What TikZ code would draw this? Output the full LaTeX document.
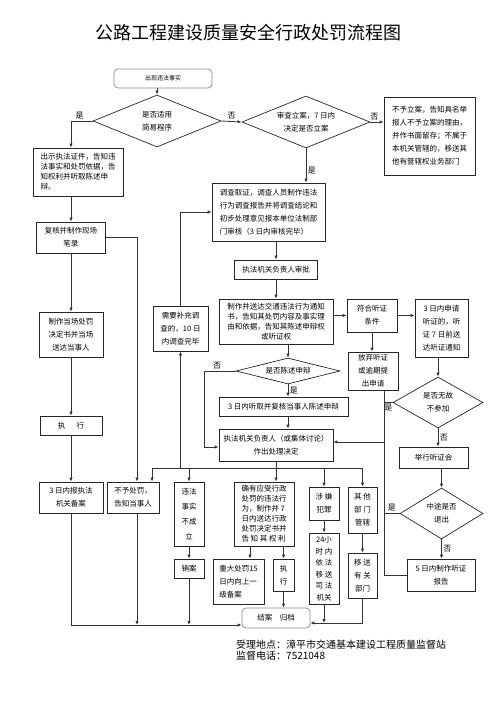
\documentclass[tikz,border=0pt]{standalone}
\usepackage{fontspec}
\setmainfont{Noto Sans CJK SC}
\usetikzlibrary{arrows.meta, shapes.geometric}

\begin{document}
\begin{tikzpicture}[x=1pt, y=-1pt,
  wh/.style n args={2}{minimum width=#1pt, minimum height=#2pt},
  box/.style={draw=black!85, line width=0.8pt, inner sep=1pt, align=center, font=\fontsize{7.5}{13}\selectfont},
  lbox/.style={box, align=left},
  dense/.style={font=\fontsize{7.5}{10}\selectfont},
  airy/.style={font=\fontsize{7.5}{15}\selectfont},
  soft/.style={box, draw=black!45, rounded corners=4pt},
  dec/.style={draw=black!85, line width=0.7pt, diamond, aspect=2.4, inner sep=0pt, align=center, font=\fontsize{7.5}{13}\selectfont},
  link/.style={draw=black!80, line width=0.8pt, -{Latex[length=4pt, width=3.4pt]}},
  wire/.style={draw=black!80, line width=0.8pt},
  tag/.style={font=\fontsize{8}{8}\selectfont, inner sep=1.5pt}]
\useasboundingbox (0,0) rectangle (496,702);
\node[font=\fontsize{18}{18}\selectfont] (title) at (248,33) {公路工程建设质量安全行政处罚流程图};
\node[soft, wh={98}{19}] (start) at (163,78.5) {\raisebox{-4pt}{\fontsize{6}{6}\selectfont 出现违法事实}};
\node[dec, wh={128}{52}] (d1) at (157,121) {是否适用\\简易程序};
\node[dec, wh={128}{52}] (d2) at (306,122) {审查立案，7 日内\\决定是否立案};
\node[lbox, wh={91}{78}] (refuse) at (429.5,136) {不予立案，告知具名举\\报人不予立案的理由，\\并作书面留存；不属于\\本机关管辖的，移送其\\他有管辖权业务部门};
\node[lbox, dense, wh={90}{48}] (show) at (78,172) {出示执法证件，告知违\\法事实和处罚依据，告\\知权利并听取陈述申\\辩。};
\node[box, wh={69}{31}] (recheck) at (71,237.5) {复核并制作现场\\笔录};
\node[box, wh={64}{45}] (onsite) at (71,334.5) {制作当场处罚\\决定书并当场\\送达当事人};
\node[box, wh={62}{19}] (exec1) at (71,425.5) {执\hspace{1.5em}行};
\node[box, wh={64}{31}] (file3) at (71,497.5) {3 日内报执法\\机关备案};
\node[lbox, wh={52}{31}] (nopen) at (133,497.5) {不予处罚，\\告知当事人};
\node[lbox, wh={113}{58}] (invest) at (268.5,212) {调查取证，调查人员制作违法\\行为调查报告并将调查结论和\\初步处理意见报本单位法制部\\门审核（3 日内审核完毕）};
\node[box, wh={83}{19}] (approve) at (276,269.5) {执法机关负责人审批};
\node[box, dense, wh={114}{45}] (notice) at (276,321.5) {制作并送达交通违法行为通知\\书，告知其处罚内容及事实理\\由和依据，告知其陈述申辩权\\或听证权};
\node[box, wh={50}{33}] (hearok) at (372,315.5) {符合听证\\条件};
\node[box, wh={53}{58}] (apply) at (441.5,328) {3 日内申请\\听证的，听\\证 7 日前送\\达听证通知};
\node[box, wh={55}{45}] (supp) at (180.5,328.5) {需要补充调\\查的，10 日\\内调查完毕};
\node[dec, wh={104}{26}] (d3) at (288,371) {是否陈述申辩};
\node[box, wh={50}{38}] (giveup) at (373,371) {放弃听证\\或逾期提\\出申请};
\node[dec, wh={90}{51}] (d4) at (438,402.5) {是否无故\\不参加};
\node[box, wh={129}{19}] (review3) at (283.5,406.5) {3 日内听取并复核当事人陈述申辩};
\node[box, wh={114}{32}] (decide) at (276,445) {执法机关负责人（或集体讨论）\\作出处理决定};
\node[box, wh={69}{21}] (hearing) at (433.5,457.5) {举行听证会};
\node[dec, wh={83}{51}] (d5) at (441.5,513.5) {中途是否\\退出};
\node[box, airy, wh={30}{64}] (nofact) at (189,514) {违法\\事实\\不成\\立};
\node[lbox, dense, wh={60}{64}] (punish) at (264,514) {确有应受行政\\处罚的违法行\\为，制作并 7\\日内送达行政\\处罚决定书并\\告 知 其 权 利};
\node[box, wh={30}{33}] (crime) at (324,503.5) {涉 嫌\\犯罪};
\node[box, wh={29}{46}] (other) at (362.5,510) {其 他\\部 门\\管辖};
\node[box, wh={68}{32}] (report5) at (441,575) {5 日内制作听证\\报告};
\node[box, wh={30}{19}] (cancel) at (189,568.5) {销案};
\node[lbox, wh={51}{45}] (major) at (238.5,581.5) {重大处罚15\\日内向上一\\级备案};
\node[box, wh={21}{32}] (exec2) at (283.5,575) {执\\行};
\node[box, font=\fontsize{7.5}{11.5}\selectfont, wh={30}{71}] (transfer) at (324,568.5) {24小\\时 内\\依 法\\移 送\\司 法\\机关};
\node[box, wh={29}{45}] (move) at (362.5,575.5) {移 送\\有 关\\部门};
\node[soft, wh={68}{20}] (close) at (276,618) {\raisebox{-5pt}{结案\quad 归档}};
\node[anchor=north west, align=left, font=\fontsize{10}{10.5}\selectfont, inner sep=0pt] (addr) at (236,640) {受理地点：漳平市交通基本建设工程质量监督站\\监督电话：7521048};
\coordinate (lowbus) at ([yshift=-7pt]close.west);
\coordinate (rbus) at ([yshift=-5pt]close.east);
\coordinate (merge) at (384,442);
\draw[link] (d1.north |- start.south) -- (d1.north);
\draw[link] (d1.west) -| node[tag, above, pos=0.3] {是} (show.north -| recheck.north);
\draw[link] (d1.east) -- node[tag, above] {否} (d2.west);
\draw[link] (d2.east) -- node[tag, above, pos=0.3] {否} (d2.east -| refuse.west);
\draw[link] (d2.south) -- node[tag, right, pos=0.65] {是} (d2.south |- invest.north);
\draw[link] (show.south -| recheck.north) -- (recheck.north);
\draw[link] (recheck) -- (onsite);
\draw[link] (onsite) -- (exec1);
\draw[link] (exec1) -- (file3);
\draw[link] (recheck.east) -| ([xshift=4pt]nopen.north);
\draw[link] (file3.south) |- (lowbus);
\draw[link] ([xshift=4pt]nopen.south) -- ([xshift=4pt]nopen.south |- lowbus);
\draw[link] (nofact) -- (cancel);
\draw[link] (cancel.south) -- (cancel.south |- lowbus);
\draw[link] ([xshift=-14pt]punish.south) -- ([xshift=-14pt]punish.south |- major.north);
\draw[link] (punish.south -| exec2.north) -- (exec2.north);
\draw[link] (exec2.south) -- (exec2.south |- close.north);
\draw[link] (crime) -- (transfer);
\draw[link] (other) -- (move);
\draw[link] (move.south) |- (rbus);
\draw[link] (transfer.south) -- (transfer.south |- rbus);
\draw[link] (approve.north |- invest.south) -- (approve.north);
\draw[link] (approve) -- (notice);
\draw[link] (notice.south -| d3.north) -- (d3.north);
\draw[link] (notice.east |- hearok.west) -- (hearok.west);
\draw[link] (hearok.east) -- (hearok.east -| apply.west);
\draw[link] (hearok.south) -- (hearok.south |- giveup.north);
\draw[link] (apply.south -| d4.north) -- (d4.north);
\draw[link] (d3.south) -- node[tag, right] {是} (d3.south |- review3.north);
\draw[link] (d3.south |- review3.south) -- (d3.south |- decide.north);
\draw[link] (d3.west) -- node[tag, above, pos=0.6] {否} ++(-31,0) |- ([yshift=-2pt]decide.west);
\draw[wire] (decide.south) -- ++(0,7) coordinate (fan);
\draw[wire] ([xshift=19pt]nopen.north |- fan) -- (other.north |- fan);
\foreach \t in {nofact, crime, other}
  \draw[link] (\t.north |- fan) -- (\t.north);
\draw[link] (fan) -- (fan |- punish.north);
\draw[link] ([xshift=19pt]nopen.north |- fan) -- ([xshift=19pt]nopen.north);
\draw[link] (supp.south |- fan) -- (supp.south);
\draw[link] (supp.north) |- (invest.west);
\draw[link] (d4.south) -- node[tag, right] {否} (d4.south |- hearing.north);
\draw[link] (d5.north |- hearing.south) -- (d5.north);
\draw[link] (d5.south) -- node[tag, right] {否} (d5.south |- report5.north);
\draw[link] (report5.west) -| (merge) -- (merge -| decide.east);
\draw[wire] (giveup.south -| merge) -- (merge);
\draw[wire] (d4.west) -- node[tag, below] {是} (d4.west -| merge);
\draw[wire] (d5.west) -- node[tag, above] {是} (d5.west -| merge);
\end{tikzpicture}
\end{document}
